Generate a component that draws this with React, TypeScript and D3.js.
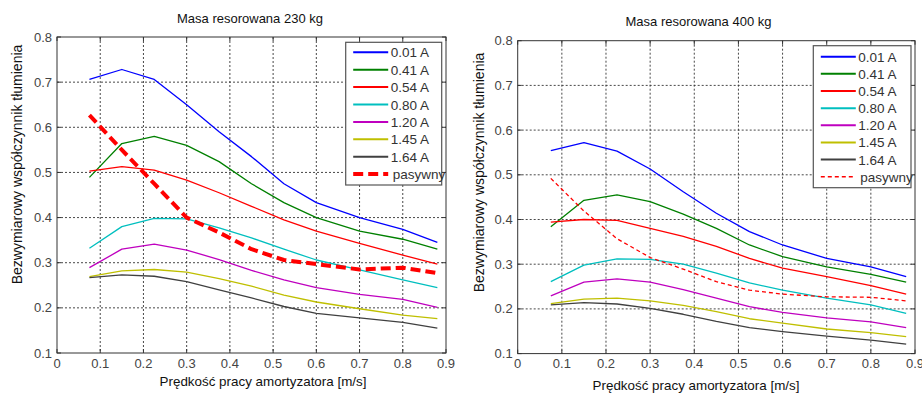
import { useEffect, useRef } from 'react'
import * as d3 from 'd3'

// prędkość [m/s] - common x for all curves
const speeds = [0.075, 0.15, 0.225, 0.3, 0.375, 0.45, 0.525, 0.6, 0.7, 0.8, 0.88]
const seriesNames = ['0.01 A', '0.41 A', '0.54 A', '0.80 A', '1.20 A', '1.45 A', '1.64 A', 'pasywny']
const xTicks = [0, 0.1, 0.2, 0.3, 0.4, 0.5, 0.6, 0.7, 0.8, 0.9]
const yTicks = [0.1, 0.2, 0.3, 0.4, 0.5, 0.6, 0.7, 0.8]

// masa 230 kg
const m230_001 = [0.706, 0.728, 0.706, 0.65, 0.59, 0.535, 0.475, 0.433, 0.4, 0.374, 0.345]
const m230_041 = [0.489, 0.564, 0.58, 0.56, 0.524, 0.475, 0.433, 0.4, 0.37, 0.352, 0.33]
const m230_054 = [0.503, 0.513, 0.505, 0.483, 0.455, 0.425, 0.395, 0.37, 0.343, 0.317, 0.297]
const m230_080 = [0.332, 0.38, 0.398, 0.397, 0.377, 0.355, 0.33, 0.306, 0.284, 0.262, 0.245]
const m230_120 = [0.289, 0.33, 0.341, 0.328, 0.307, 0.283, 0.262, 0.245, 0.23, 0.219, 0.201]
const m230_145 = [0.269, 0.282, 0.285, 0.279, 0.265, 0.248, 0.228, 0.213, 0.198, 0.184, 0.176]
const m230_164 = [0.267, 0.273, 0.27, 0.258, 0.24, 0.222, 0.203, 0.188, 0.178, 0.168, 0.155]
const m230_pas = [0.627, 0.55, 0.475, 0.4, 0.367, 0.33, 0.306, 0.297, 0.285, 0.289, 0.277]

// masa 400 kg
const m400_001 = [0.554, 0.572, 0.553, 0.513, 0.462, 0.414, 0.373, 0.343, 0.313, 0.294, 0.272]
const m400_041 = [0.384, 0.443, 0.455, 0.44, 0.412, 0.38, 0.343, 0.317, 0.294, 0.277, 0.26]
const m400_054 = [0.394, 0.4, 0.398, 0.38, 0.362, 0.34, 0.313, 0.291, 0.272, 0.252, 0.233]
const m400_080 = [0.261, 0.298, 0.312, 0.311, 0.3, 0.28, 0.258, 0.242, 0.224, 0.209, 0.19]
const m400_120 = [0.229, 0.26, 0.267, 0.26, 0.243, 0.224, 0.205, 0.192, 0.18, 0.171, 0.158]
const m400_145 = [0.212, 0.222, 0.224, 0.218, 0.208, 0.194, 0.178, 0.168, 0.155, 0.147, 0.138]
const m400_164 = [0.209, 0.214, 0.211, 0.201, 0.188, 0.172, 0.158, 0.149, 0.139, 0.13, 0.121]
const m400_pas = [0.492, 0.419, 0.357, 0.315, 0.289, 0.261, 0.242, 0.233, 0.227, 0.226, 0.218]

const colors = ['#0000ff', '#008000', '#ff0000', '#00bfbf', '#bf00bf', '#bfbf00', '#404040', '#ff0000']
const FONT = '"Liberation Sans", Arial, sans-serif'

const panels = [
  {
    title: 'Masa resorowana 230 kg',
    series: [m230_001, m230_041, m230_054, m230_080, m230_120, m230_145, m230_164, m230_pas],
    box: { left: 57, right: 446, top: 37, bottom: 353 },
    titleX: 250, titleY: 23,
    xLabelX: 263, xLabelY: 386,
    yLabelX: 22, yLabelY: 164.5,
    legend: { x: 345.7, y: 42.3, w: 96, h: 142.7, row0: 52.3, step: 17.4 },
    passiveWidth: 4, passiveDash: '10,5',
  },
  {
    title: 'Masa resorowana 400 kg',
    series: [m400_001, m400_041, m400_054, m400_080, m400_120, m400_145, m400_164, m400_pas],
    box: { left: 517.7, right: 915, top: 40.7, bottom: 353.6 },
    titleX: 698.5, titleY: 26,
    xLabelX: 696, xLabelY: 390,
    yLabelX: 484, yLabelY: 172.5,
    legend: { x: 813.3, y: 45.7, w: 97.7, h: 142, row0: 56.7, step: 17.15 },
    passiveWidth: 1.3, passiveDash: '4,3',
  },
]

export default function App() {
  const ref = useRef<SVGSVGElement>(null)

  useEffect(() => {
    document.body.style.margin = '0'
    if (!ref.current) return
    const svg = d3.select(ref.current)
    svg.selectAll('*').remove()

    panels.forEach(p => {
      const { left, right, top, bottom } = p.box
      const x = d3.scaleLinear().domain([0, 0.9]).range([left, right])
      const y = d3.scaleLinear().domain([0.1, 0.8]).range([bottom, top])
      const g = svg.append('g')

      // grid
      g.selectAll('.gx').data(xTicks.slice(1, -1)).enter().append('line')
        .attr('x1', d => x(d)).attr('x2', d => x(d)).attr('y1', top).attr('y2', bottom)
        .attr('stroke', '#333').attr('stroke-width', 0.9).attr('stroke-dasharray', '2,2')
      g.selectAll('.gy').data(yTicks.slice(1, -1)).enter().append('line')
        .attr('y1', d => y(d)).attr('y2', d => y(d)).attr('x1', left).attr('x2', right)
        .attr('stroke', '#333').attr('stroke-width', 0.9).attr('stroke-dasharray', '2,2')

      // inner ticks
      xTicks.forEach(t => {
        g.append('line').attr('x1', x(t)).attr('x2', x(t)).attr('y1', bottom).attr('y2', bottom - 4).attr('stroke', '#333')
        g.append('line').attr('x1', x(t)).attr('x2', x(t)).attr('y1', top).attr('y2', top + 4).attr('stroke', '#333')
      })
      yTicks.forEach(t => {
        g.append('line').attr('x1', left).attr('x2', left + 4).attr('y1', y(t)).attr('y2', y(t)).attr('stroke', '#333')
        g.append('line').attr('x1', right).attr('x2', right - 4).attr('y1', y(t)).attr('y2', y(t)).attr('stroke', '#333')
      })

      // curves
      const line = d3.line<number>().x((_, i) => x(speeds[i])).y(d => y(d))
      p.series.forEach((s, i) => {
        const passive = i === seriesNames.length - 1
        g.append('path')
          .attr('d', line(s) || '')
          .attr('fill', 'none')
          .attr('stroke', colors[i])
          .attr('stroke-width', passive ? p.passiveWidth : 1.3)
          .attr('stroke-dasharray', passive ? p.passiveDash : null)
          .attr('stroke-linejoin', 'round')
      })

      // box
      g.append('rect').attr('x', left).attr('y', top).attr('width', right - left).attr('height', bottom - top)
        .attr('fill', 'none').attr('stroke', '#333').attr('stroke-width', 1)

      // tick labels
      g.selectAll('.xl').data(xTicks).enter().append('text')
        .attr('x', d => x(d)).attr('y', 368).attr('text-anchor', 'middle')
        .style('font-family', FONT).style('font-size', '13px').style('fill', '#444')
        .text(d => String(d))
      g.selectAll('.yl').data(yTicks).enter().append('text')
        .attr('x', left - 5).attr('y', d => y(d) + 4.5).attr('text-anchor', 'end')
        .style('font-family', FONT).style('font-size', '13px').style('fill', '#444')
        .text(d => d.toFixed(1))

      // title and axis labels
      g.append('text').attr('x', p.titleX).attr('y', p.titleY).attr('text-anchor', 'middle')
        .style('font-family', FONT).style('font-size', '13px').style('fill', '#111').text(p.title)
      g.append('text').attr('x', p.xLabelX).attr('y', p.xLabelY).attr('text-anchor', 'middle')
        .style('font-family', FONT).style('font-size', '13.4px').style('fill', '#111')
        .text('Prędkość pracy amortyzatora [m/s]')
      g.append('text').attr('transform', `translate(${p.yLabelX},${p.yLabelY}) rotate(-90)`)
        .attr('text-anchor', 'middle')
        .style('font-family', FONT).style('font-size', '14px').style('fill', '#111')
        .text('Bezwymiarowy współczynnik tłumienia')

      // legend
      const L = p.legend
      const lg = g.append('g')
      lg.append('rect').attr('x', L.x).attr('y', L.y).attr('width', L.w).attr('height', L.h)
        .attr('fill', '#fff').attr('stroke', '#555').attr('stroke-width', 1.2)
      seriesNames.forEach((name, i) => {
        const ly = L.row0 + i * L.step
        const passive = i === seriesNames.length - 1
        lg.append('line').attr('x1', L.x + 7.5).attr('x2', L.x + 42.5).attr('y1', ly).attr('y2', ly)
          .attr('stroke', colors[i])
          .attr('stroke-width', passive ? p.passiveWidth : 2)
          .attr('stroke-dasharray', passive ? p.passiveDash : null)
        lg.append('text').attr('x', L.x + (passive ? 47 : 45)).attr('y', ly + 5)
          .style('font-family', FONT).style('font-size', '13.5px').style('fill', '#333')
          .text(name)
      })
    })

    return () => { svg.selectAll('*').remove() }
  }, [])

  return <svg ref={ref} width={922} height={395} style={{ display: 'block', background: '#fff' }} />
}
